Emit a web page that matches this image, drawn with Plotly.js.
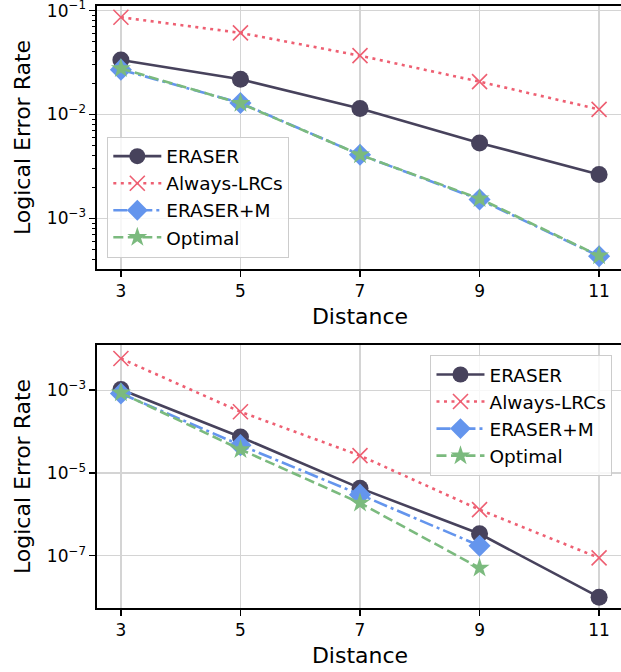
<!DOCTYPE html>
<html>
<head>
<meta charset="utf-8">
<script src="https://cdn.plot.ly/plotly-3.0.1.min.js"></script>
<style>
html, body { margin: 0; padding: 0; overflow: hidden; background: #fff; }
#chart { width: 624px; height: 672px; }
</style>
</head>
<body>
<div id="chart"></div>
<script>
// ---- data ----
const distances = [3, 5, 7, 9, 11];
const distancesShort = [3, 5, 7, 9];
const seriesNames = ["ERASER", "Always-LRCs", "ERASER+M", "Optimal"];

const topEraser   = [0.0334, 0.0218, 0.0114, 0.00533, 0.00264];
const topAlways   = [0.0862, 0.061, 0.0368, 0.0207, 0.0112];
const topEraserM  = [0.0270, 0.0129, 0.0041, 0.00152, 0.000433];
const topOptimal  = [0.0277, 0.0128, 0.0041, 0.00155, 0.000437];

const botEraser   = [1.04e-3, 7.4e-5, 4.3e-6, 3.4e-7, 1.0e-8];
const botAlways   = [5.8e-3, 3.0e-4, 2.63e-5, 1.3e-6, 8.9e-8];
const botEraserM  = [8.3e-4, 4.7e-5, 3.0e-6, 1.75e-7];
const botOptimal  = [8.6e-4, 3.7e-5, 1.88e-6, 5.1e-8];

const xTickVals = [3, 5, 7, 9, 11];
const topYTickVals = [1e-3, 1e-2, 1e-1];
const topYTickText = ["10<sup>−3</sup>", "10<sup>−2</sup>", "10<sup>−1</sup>"];
const botYTickVals = [1e-7, 1e-5, 1e-3];
const botYTickText = ["10<sup>−7</sup>", "10<sup>−5</sup>", "10<sup>−3</sup>"];

// ---- styles ----
const FONT = "DejaVu Sans, sans-serif";
const cEraser = "#47425c";
const cAlways = "#ee5f72";
const cEraserM = "#6495ed";
const cOptimal = "#7bba7e";

function styleFor(i) {
  return [
    { line: { color: cEraser, width: 2.6, dash: "solid" },
      marker: { symbol: "circle", size: 17, color: cEraser, line: { color: cEraser, width: 0 } } },
    { line: { color: cAlways, width: 2.6, dash: "3px,4.5px" },
      marker: { symbol: "x-thin", size: 15, color: cAlways, line: { color: cAlways, width: 1.6 } } },
    { line: { color: cEraserM, width: 2.6, dash: "14px,4px,3px,4px" },
      marker: { symbol: "diamond", size: 17, color: cEraserM, line: { color: cEraserM, width: 0 } } },
    { line: { color: cOptimal, width: 2.6, dash: "10px,4.5px" },
      marker: { symbol: "star", size: 15, color: cOptimal, line: { color: cOptimal, width: 0 } } }
  ][i];
}

function mk(x, y, i, xa, ya, leg) {
  const s = styleFor(i);
  return { x: x, y: y, type: "scatter", mode: "lines+markers", name: seriesNames[i],
           xaxis: xa, yaxis: ya, legend: leg, line: s.line, marker: s.marker, cliponaxis: false };
}

const traces = [
  mk(distances, topEraser, 0, "x", "y", "legend"),
  mk(distances, topAlways, 1, "x", "y", "legend"),
  mk(distances, topEraserM, 2, "x", "y", "legend"),
  mk(distances, topOptimal, 3, "x", "y", "legend"),
  mk(distances, botEraser, 0, "x2", "y2", "legend2"),
  mk(distances, botAlways, 1, "x2", "y2", "legend2"),
  mk(distancesShort, botEraserM, 2, "x2", "y2", "legend2"),
  mk(distancesShort, botOptimal, 3, "x2", "y2", "legend2")
];

// minor tick positions for the top log axis (2..9 per decade)
const topMinor = [];
for (let e = -4; e <= -1; e++) for (let m = 2; m <= 9; m++) topMinor.push(m * Math.pow(10, e));

const gridColor = "#d4d4d4";
const xBase = {
  range: [2.6, 11.4], tickmode: "array", tickvals: xTickVals,
  ticks: "outside", ticklen: 6, tickwidth: 1.3, tickcolor: "#000",
  showline: true, linecolor: "#000", linewidth: 1.6, mirror: true,
  showgrid: true, gridcolor: gridColor, gridwidth: 1.2, zeroline: false,
  ticklabeloverflow: "allow",
  tickfont: { family: FONT, size: 17, color: "#000" },
  title: { text: "Distance", font: { family: FONT, size: 22, color: "#000" }, standoff: 8 }
};
const yBase = {
  type: "log", tickmode: "array",
  ticks: "outside", ticklen: 6, tickwidth: 1.3, tickcolor: "#000",
  showline: true, linecolor: "#000", linewidth: 1.6, mirror: true,
  showgrid: true, gridcolor: gridColor, gridwidth: 1.2, zeroline: false,
  ticklabeloverflow: "allow",
  tickfont: { family: FONT, size: 17, color: "#000" },
  title: { text: "Logical Error Rate", font: { family: FONT, size: 22, color: "#000" }, standoff: 10 }
};

const legendBase = {
  font: { family: FONT, size: 18.5, color: "#000" },
  bgcolor: "rgba(255,255,255,0.8)", bordercolor: "#cccccc", borderwidth: 1,
  itemwidth: 48, tracegroupgap: 0
};

const layout = {
  width: 624, height: 672,
  margin: { l: 97, r: 1, t: 6, b: 64 },
  paper_bgcolor: "#fff", plot_bgcolor: "#fff",
  showlegend: true,
  xaxis: Object.assign({}, xBase, { anchor: "y", domain: [0, 1] }),
  yaxis: Object.assign({}, yBase, {
    anchor: "x", domain: [0.5631, 1], range: [-3.487, -0.956],
    tickvals: topYTickVals, ticktext: topYTickText,
    minor: { tickmode: "array", tickvals: topMinor, ticks: "outside", ticklen: 3, tickwidth: 1, tickcolor: "#000", showgrid: false }
  }),
  xaxis2: Object.assign({}, xBase, { anchor: "y2", domain: [0, 1] }),
  yaxis2: Object.assign({}, yBase, {
    anchor: "x2", domain: [0, 0.4369], range: [-8.26, -1.91],
    tickvals: botYTickVals, ticktext: botYTickText
  }),
  legend: Object.assign({}, legendBase, { x: 0.0196, xanchor: "left", y: 0.582, yanchor: "bottom" }),
  legend2: Object.assign({}, legendBase, { x: 0.98, xanchor: "right", y: 0.4203, yanchor: "top" })
};

Plotly.newPlot("chart", traces, layout, { displayModeBar: false, staticPlot: true });
</script>
</body>
</html>
